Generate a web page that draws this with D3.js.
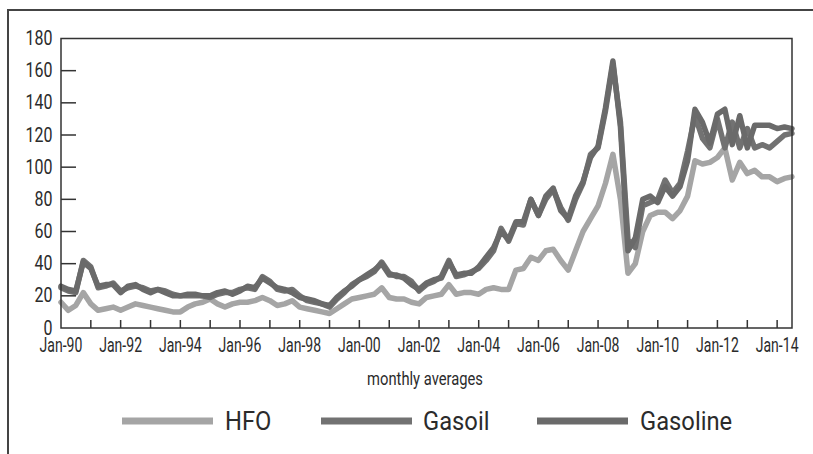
<!DOCTYPE html>
<html><head><meta charset="utf-8">
<script src="https://cdn.jsdelivr.net/npm/d3@7"></script>
<style>
html,body{margin:0;padding:0;background:#fff;}
svg{display:block;}
text{font-family:Roboto,"Open Sans",sans-serif;fill:#2b2b2b;}
</style></head>
<body>
<svg id="chart" width="813" height="454"></svg>
<script>
// ---- data (quarterly readings, Jan/Apr/Jul/Oct, 1990 - Jul 2014) ----
const seriesNames = ["HFO", "Gasoil", "Gasoline"];
const hfo = [
  16,11,14,22, 15,11,12,13, 11,13,15,14, 13,12,11,10, 10,13,15,16,
  18,15,13,15, 16,16,17,19, 17,14,15,17, 13,12,11,10, 9,12,15,18,
  19,20,21,25, 19,18,18,16, 15,19,20,21, 27,21,22,22, 21,24,25,24,
  24,36,37,44, 42,48,49,42, 36,48,60,68, 76,90,108,80, 34,40,60,70,
  72,72,68,73, 82,104,102,103, 106,112,92,103, 96,98,94,94, 91,93,94
];
const gasoil = [
  25,23,22,42, 38,25,26,28, 23,25,26,25, 23,24,23,21, 20,20,20,20,
  19,21,22,22, 24,25,24,32, 29,24,23,24, 20,17,16,15, 13,18,22,27,
  30,32,35,41, 34,32,32,29, 23,27,29,32, 42,32,33,35, 37,42,48,62,
  54,65,64,80, 70,80,86,75, 67,80,90,108, 112,135,164,128, 55,50,76,78,
  80,92,84,90, 110,132,118,112, 130,112,128,112, 124,112,114,112, 116,120,121
];
const gasoline = [
  26,24,23,41, 37,26,27,27, 22,26,27,24, 22,24,22,20, 20,21,21,20,
  20,22,23,21, 23,26,25,31, 28,25,24,22, 19,18,17,15, 14,19,23,26,
  30,33,36,40, 33,33,31,27, 24,28,30,31, 41,33,34,34, 38,44,50,60,
  55,66,66,80, 70,82,87,73, 68,82,91,106, 113,137,166,125, 48,56,80,82,
  78,88,82,88, 104,136,128,115, 133,136,114,132, 112,126,126,126, 124,125,124
];
const dates = d3.timeMonth.range(new Date(1990,0,1), new Date(2014,7,1), 3);
const yTicks = [0,20,40,60,80,100,120,140,160,180];
const xTickYears = d3.range(1990, 2015);
const xLabelYears = d3.range(1990, 2015, 2);
const axisTitle = "monthly averages";

// ---- layout ----
const svg = d3.select("#chart");
const L = 61, R = 792, T = 38.5, B = 328;
const x = d3.scaleTime().domain([new Date(1990,0,1), new Date(2014,6,2)]).range([L, R]);
const y = d3.scaleLinear().domain([0,180]).range([B, T]);
const colors = {HFO:"#a5a5a5", Gasoil:"#727272", Gasoline:"#6a6a6a"};
const valuesBy = {HFO:hfo, Gasoil:gasoil, Gasoline:gasoline};

// outer frame
svg.append("path").attr("d", `M8,454 L8,10 L813,10`).attr("fill","none")
  .attr("stroke","#444").attr("stroke-width",2);

// lines
const line = d3.line().x((d,i)=>x(dates[i])).y(d=>y(d)).curve(d3.curveLinear);
const gLines = svg.append("g");
seriesNames.forEach(name=>{
  gLines.append("path").datum(valuesBy[name])
    .attr("d", line).attr("fill","none")
    .attr("stroke", colors[name]).attr("stroke-width",5.5)
    .attr("stroke-linejoin","round").attr("stroke-linecap","round");
});

// plot frame
svg.append("rect").attr("x",L).attr("y",T).attr("width",R-L).attr("height",B-T)
  .attr("fill","none").attr("stroke","#333").attr("stroke-width",1.5);

// y axis ticks (inward) and labels
const gy = svg.append("g");
gy.selectAll("line").data(yTicks.filter(v=>v>0 && v<180)).enter().append("line")
  .attr("x1",L).attr("x2",L+15).attr("y1",d=>y(d)).attr("y2",d=>y(d))
  .attr("stroke","#333").attr("stroke-width",1.5);
gy.selectAll("text").data(yTicks).enter().append("text")
  .attr("transform",d=>`translate(52.5,${y(d)+6.5}) scale(0.82,1)`)
  .attr("text-anchor","end").attr("font-size",19.5).text(d=>d);

// x axis ticks (inward) and labels
const gx = svg.append("g");
gx.selectAll("line").data(xTickYears.filter(v=>v>1990)).enter().append("line")
  .attr("x1",d=>x(new Date(d,0,1))).attr("x2",d=>x(new Date(d,0,1)))
  .attr("y1",B).attr("y2",B-8).attr("stroke","#333").attr("stroke-width",1.5);
gx.selectAll("text").data(xLabelYears).enter().append("text")
  .attr("transform",d=>`translate(${x(new Date(d,0,1))},352) scale(0.72,1)`)
  .attr("text-anchor","middle").attr("font-size",19.5)
  .text(d=>"Jan-" + String(d%100).padStart(2,"0"));

// axis title
svg.append("text").attr("transform","translate(425,385) scale(0.82,1)")
  .attr("text-anchor","middle").attr("font-size",18).text(axisTitle);

// legend
const legendPos = [{line:[122,213], tx:225}, {line:[321,412], tx:423}, {line:[537,628], tx:640}];
seriesNames.forEach((name,i)=>{
  const p = legendPos[i];
  svg.append("line").attr("x1",p.line[0]).attr("x2",p.line[1]).attr("y1",421).attr("y2",421)
    .attr("stroke",colors[name]).attr("stroke-width",7);
  svg.append("text").attr("transform",`translate(${p.tx},430) scale(0.95,1)`)
    .attr("font-size",25).text(name);
});
</script>
</body></html>
